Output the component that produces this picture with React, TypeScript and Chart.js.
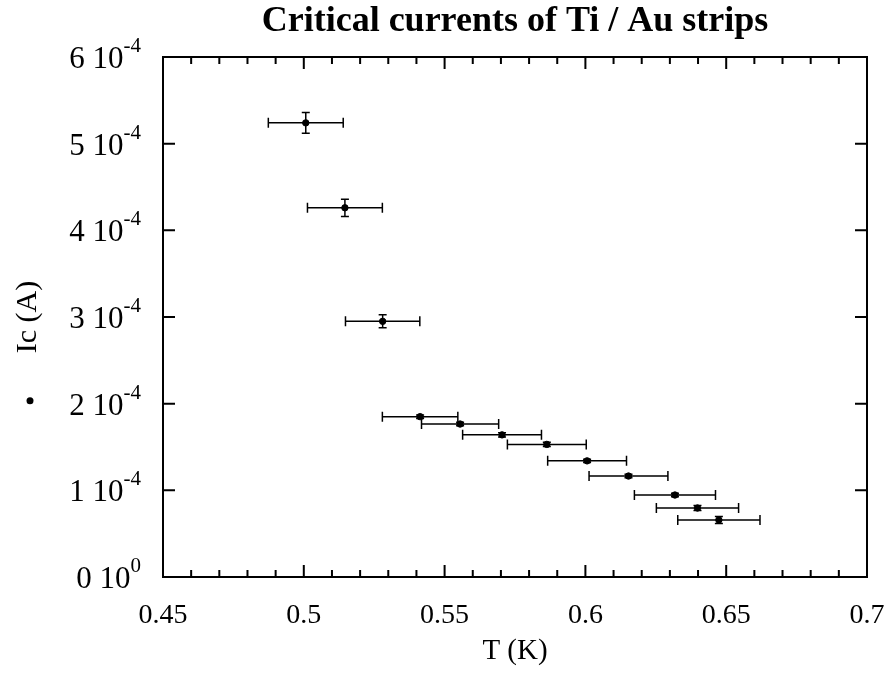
import React, { useEffect, useRef } from 'react';
import { Chart, registerables } from 'chart.js';

Chart.register(...registerables);

// ---- data ----
const temperatures = [0.5007, 0.5146, 0.528, 0.5413, 0.5555, 0.5704, 0.5863, 0.6006, 0.6153, 0.6318, 0.6398, 0.6474];
const criticalCurrents = [5.24e-4, 4.26e-4, 2.95e-4, 1.85e-4, 1.765e-4, 1.64e-4, 1.53e-4, 1.34e-4, 1.165e-4, 0.946e-4, 0.796e-4, 0.658e-4];
const temperatureErrors = [0.0133, 0.0133, 0.0132, 0.0134, 0.0137, 0.014, 0.014, 0.014, 0.014, 0.0144, 0.0146, 0.0146];
const currentErrors = [0.12e-4, 0.1e-4, 0.075e-4, 0.02e-4, 0.02e-4, 0.025e-4, 0.025e-4, 0.02e-4, 0.02e-4, 0.02e-4, 0.03e-4, 0.04e-4];

const xMin = 0.45;
const xMax = 0.7;
const xMajorStep = 0.05;
const xMinorStep = 0.01;
const xTickValues = [0.45, 0.5, 0.55, 0.6, 0.65, 0.7];
const xTickLabels = ['0.45', '0.5', '0.55', '0.6', '0.65', '0.7'];
const yMin = 0;
const yMax = 6e-4;
const yTickValues = [0, 1e-4, 2e-4, 3e-4, 4e-4, 5e-4, 6e-4];
const yTickMantissas = ['0', '1', '2', '3', '4', '5', '6'];
const yTickExponents = ['0', '-4', '-4', '-4', '-4', '-4', '-4'];

const titleText = 'Critical currents of Ti / Au strips';
const xTitleText = 'T (K)';
const yTitleText = 'Ic (A)';

const FONT = '"Liberation Serif", "Times New Roman", serif';

const errorBarPlugin = {
  id: 'errorBars',
  afterDatasetsDraw(chart: any) {
    const ctx = chart.ctx;
    const xs = chart.scales.x;
    const ys = chart.scales.y;
    ctx.save();
    ctx.strokeStyle = '#000';
    ctx.lineWidth = 1.5;
    for (let i = 0; i < temperatures.length; i++) {
      const cx = xs.getPixelForValue(temperatures[i]);
      const cy = ys.getPixelForValue(criticalCurrents[i]);
      const x0 = xs.getPixelForValue(temperatures[i] - temperatureErrors[i]);
      const x1 = xs.getPixelForValue(temperatures[i] + temperatureErrors[i]);
      const y0 = ys.getPixelForValue(criticalCurrents[i] - currentErrors[i]);
      const y1 = ys.getPixelForValue(criticalCurrents[i] + currentErrors[i]);
      ctx.beginPath();
      ctx.moveTo(x0, cy); ctx.lineTo(x1, cy);
      ctx.moveTo(x0, cy - 5); ctx.lineTo(x0, cy + 5);
      ctx.moveTo(x1, cy - 5); ctx.lineTo(x1, cy + 5);
      ctx.moveTo(cx, y0); ctx.lineTo(cx, y1);
      ctx.moveTo(cx - 4, y0); ctx.lineTo(cx + 4, y0);
      ctx.moveTo(cx - 4, y1); ctx.lineTo(cx + 4, y1);
      ctx.stroke();
    }
    ctx.restore();
  },
};

const framePlugin = {
  id: 'frameTicks',
  afterDraw(chart: any) {
    const ctx = chart.ctx;
    const xs = chart.scales.x;
    const ys = chart.scales.y;
    const { left, right, top, bottom } = chart.chartArea;
    ctx.save();
    ctx.strokeStyle = '#000';
    ctx.fillStyle = '#000';
    ctx.lineWidth = 2;
    ctx.strokeRect(left, top, right - left, bottom - top);
    // x ticks (inward, top and bottom)
    const nMinor = Math.round((xMax - xMin) / xMinorStep);
    const ratio = Math.round(xMajorStep / xMinorStep);
    ctx.beginPath();
    for (let k = 0; k <= nMinor; k++) {
      const v = xMin + k * xMinorStep;
      const px = xs.getPixelForValue(v);
      const len = k % ratio === 0 ? 12 : 7;
      ctx.moveTo(px, bottom); ctx.lineTo(px, bottom - len);
      ctx.moveTo(px, top); ctx.lineTo(px, top + len);
    }
    // y ticks (inward, left and right)
    for (const v of yTickValues) {
      const py = ys.getPixelForValue(v);
      ctx.moveTo(left, py); ctx.lineTo(left + 12, py);
      ctx.moveTo(right, py); ctx.lineTo(right - 12, py);
    }
    ctx.stroke();

    // title centred over the plot area
    ctx.font = `bold 36px ${FONT}`;
    ctx.textAlign = 'center';
    ctx.textBaseline = 'alphabetic';
    ctx.fillText(titleText, (left + right) / 2, 31);

    // x tick labels
    ctx.font = `28px ${FONT}`;
    ctx.textAlign = 'center';
    for (let i = 0; i < xTickValues.length; i++) {
      const px = xs.getPixelForValue(xTickValues[i]);
      ctx.fillText(xTickLabels[i], px, bottom + 46);
    }

    // y tick labels with superscript exponents
    const labelRight = left - 22;
    ctx.textAlign = 'left';
    for (let i = 0; i < yTickValues.length; i++) {
      const py = ys.getPixelForValue(yTickValues[i]);
      ctx.font = `21px ${FONT}`;
      const supW = ctx.measureText(yTickExponents[i]).width;
      ctx.font = `31px ${FONT}`;
      const main = `${yTickMantissas[i]} 10`;
      const mainW = ctx.measureText(main).width;
      ctx.fillText(main, labelRight - supW - mainW, py + 11);
      ctx.font = `21px ${FONT}`;
      ctx.fillText(yTickExponents[i], labelRight - supW, py - 5);
    }

    // legend bullet beside the y title
    const by = ys.getPixelForValue(2e-4) - 3;
    ctx.beginPath();
    ctx.arc(30, by, 3.5, 0, Math.PI * 2);
    ctx.fill();
    ctx.restore();
  },
};

export default function App() {
  const canvasRef = useRef<HTMLCanvasElement | null>(null);

  useEffect(() => {
    if (!canvasRef.current) return;
    const chart = new Chart(canvasRef.current, {
      type: 'scatter',
      data: {
        datasets: [
          {
            label: 'Ic',
            data: temperatures.map((t, i) => ({ x: t, y: criticalCurrents[i] })),
            backgroundColor: '#000',
            borderColor: '#000',
            pointRadius: 3.2,
            pointStyle: 'circle',
            showLine: false,
          },
        ],
      },
      options: {
        animation: false,
        responsive: false,
        layout: { padding: { left: 0, right: 23, top: 57, bottom: 0 } },
        plugins: {
          legend: { display: false },
          tooltip: { enabled: false },
          title: { display: false },
        },
        scales: {
          x: {
            type: 'linear',
            min: xMin,
            max: xMax,
            grid: { display: false },
            border: { display: false },
            ticks: { display: false, stepSize: xMajorStep },
            title: {
              display: true,
              text: xTitleText,
              color: '#000',
              font: { family: FONT, size: 29 },
              padding: { top: 0, bottom: 10 },
            },
            afterFit: (scale: any) => { scale.height = 102; },
          },
          y: {
            type: 'linear',
            min: yMin,
            max: yMax,
            grid: { display: false },
            border: { display: false },
            ticks: { display: false },
            title: {
              display: true,
              text: yTitleText,
              color: '#000',
              font: { family: FONT, size: 30 },
              padding: { top: 10, bottom: 0 },
            },
            afterFit: (scale: any) => { scale.width = 163; },
          },
        },
      },
      plugins: [errorBarPlugin, framePlugin],
    });
    return () => chart.destroy();
  }, []);

  return (
    <div style={{ position: 'fixed', left: 0, top: 0, width: 890, height: 679, background: '#fff' }}>
      <canvas ref={canvasRef} width={890} height={679} style={{ display: 'block' }} />
    </div>
  );
}
